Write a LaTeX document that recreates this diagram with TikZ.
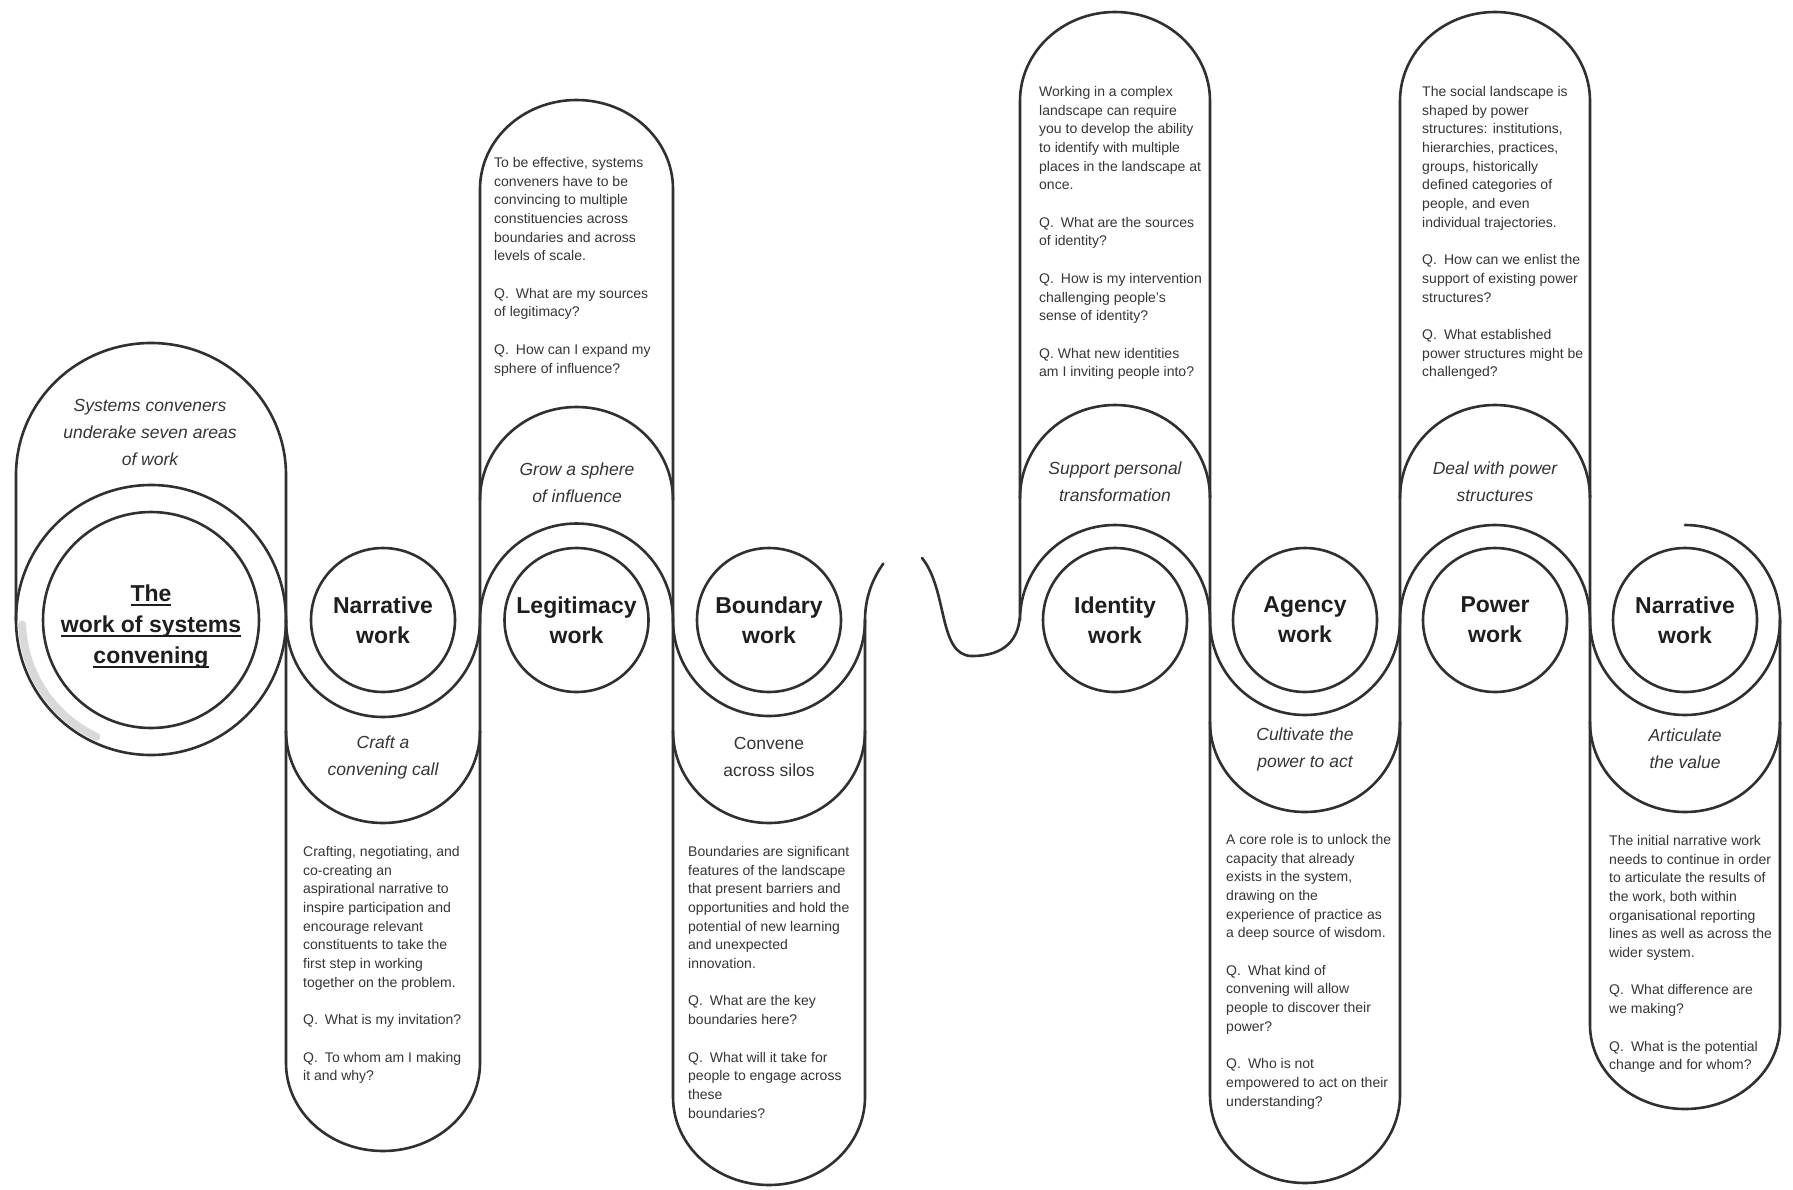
\documentclass[tikz,border=0pt]{standalone}
\usepackage{fontspec}
\setmainfont{Liberation Sans}
\definecolor{ink}{HTML}{303030}
\definecolor{txt}{HTML}{353535}
\definecolor{boldtxt}{HTML}{1E1E1E}
\newcommand\myULine[1]{\setbox0=\hbox{#1}\rlap{\rule[-4pt]{\wd0}{1.8pt}}\box0}
\tikzset{
  ln/.style={draw=ink, line width=2.6pt, line cap=round, line join=round},
  workc/.style={circle, draw=ink, line width=2.6pt, minimum size=144pt, inner sep=0pt,
    align=center, text=boldtxt, font=\fontsize{23}{30}\selectfont\bfseries},
  subt/.style={align=center, text=txt, font=\fontsize{17.5}{27}\selectfont\itshape, inner sep=0pt},
  body/.style={align=left, anchor=north west, text=txt, font=\fontsize{14}{18.7}\selectfont, inner sep=0pt},
}
\begin{document}
\begin{tikzpicture}[x=1pt,y=-1pt]
\useasboundingbox (0,0) rectangle (1793,1189);
\fill[white] (0,0) rectangle (1793,1189);

% ---------- left group: column outlines ----------
\draw[ln] (16,620) -- (16,475) arc[start angle=180, end angle=360, x radius=135, y radius=132]
  -- (286,1063) arc[start angle=180, end angle=0, x radius=97, y radius=88]
  -- (480,189) arc[start angle=180, end angle=360, x radius=96.5, y radius=89]
  -- (673,1097) arc[start angle=180, end angle=0, x radius=96, y radius=88] -- (865,620);
% wave line (left group)
\draw[ln] (286,620) arc(180:0:97) arc(180:360:96.5) arc(180:0:96) arc(180:216:96);

% ---------- right group: column outlines ----------
\draw[ln] (1020,612) -- (1020,101) arc[start angle=180, end angle=360, x radius=95, y radius=89]
  -- (1210,1095) arc[start angle=180, end angle=0, x radius=95, y radius=88]
  -- (1400,101) arc[start angle=180, end angle=360, x radius=95, y radius=89]
  -- (1590,1025) arc[start angle=180, end angle=0, x radius=95, y radius=84] -- (1780,620);
% wave line (right group)
\draw[ln] (922,558) .. controls (948,590) and (938,656) .. (972,656)
  .. controls (1004,656) and (1020,640) .. (1020,612) -- (1020,620)
  arc(180:360:95) arc(180:0:95) arc(180:360:95) arc(180:0:95) arc(0:-90:95);

% ---------- subtitle caps ----------
\draw[ln] (480,500) arc[start angle=180, end angle=360, x radius=96.5, y radius=93];
\draw[ln] (1020,498) arc[start angle=180, end angle=360, x radius=95, y radius=93];
\draw[ln] (1400,498) arc[start angle=180, end angle=360, x radius=95, y radius=93];
\draw[ln] (286,731) arc[start angle=180, end angle=0, x radius=97, y radius=92];
\draw[ln] (673,731) arc[start angle=180, end angle=0, x radius=96, y radius=92];
\draw[ln] (1210,722) arc[start angle=180, end angle=0, x radius=95, y radius=90];
\draw[ln] (1590,722) arc[start angle=180, end angle=0, x radius=95, y radius=90];

% ---------- start element ----------
\draw[gray!30, line width=8pt, line cap=round] (96.5,736.9) arc(115:178:129);
\node[circle, draw=ink, line width=2.6pt, minimum size=270pt, inner sep=0pt] (startouter) at (151,620) {};
\node[circle, draw=ink, line width=2.6pt, minimum size=216pt, inner sep=0pt] (start) at (151,620) {};
\node[align=center, text=boldtxt, font=\fontsize{23}{31}\selectfont\bfseries, inner sep=0pt] (starttxt) at (151,627)
  {\myULine{The}\\\myULine{work of systems}\\\myULine{convening}};
\node[subt] (startsub) at (150,432) {Systems conveners\\underake seven areas\\of work};

% ---------- work circles ----------
\node[workc] (n1) at (383,620) {Narrative\\work};
\node[workc] (leg) at (576.5,620) {Legitimacy\\work};
\node[workc] (bnd) at (769,620) {Boundary\\work};
\node[workc] (idn) at (1115,620) {Identity\\work};
\node[workc] (agn) at (1305,620) {Agency\\work};
\node[workc] (pow) at (1495,620) {Power\\work};
\node[workc] (n2) at (1685,620) {Narrative\\work};

% ---------- subtitles ----------
\node[subt] (legsub) at (577,483) {Grow a sphere\\of influence};
\node[subt] (idnsub) at (1115,482) {Support personal\\transformation};
\node[subt] (powsub) at (1495,482) {Deal with power\\structures};
\node[subt] (n1sub) at (383,757) {Craft a\\convening call};
\node[subt, font=\fontsize{17.5}{27}\selectfont] (bndsub) at (769,757) {Convene\\across silos};
\node[subt] (agnsub) at (1305,749) {Cultivate the\\power to act};
\node[subt] (n2sub) at (1685,749) {Articulate\\the value};

% ---------- body texts ----------
\node[body] (legtxt) at (494,157) {To be effective, systems\\conveners have to be\\convincing to multiple\\constituencies across\\boundaries and across\\levels of scale.\\[18.7pt]Q.\enspace What are my sources\\of legitimacy?\\[18.7pt]Q.\enspace How can I expand my\\sphere of influence?};

\node[body] (n1txt) at (303,846) {Crafting, negotiating, and\\co-creating an\\aspirational narrative to\\inspire participation and\\encourage relevant\\constituents to take the\\first step in working\\together on the problem.\\[18.7pt]Q.\enspace What is my invitation?\\[18.7pt]Q.\enspace To whom am I making\\it and why?};

\node[body] (bndtxt) at (688,846) {Boundaries are significant\\features of the landscape\\that present barriers and\\opportunities and hold the\\potential of new learning\\and unexpected\\innovation.\\[18.7pt]Q.\enspace What are the key\\boundaries here?\\[18.7pt]Q.\enspace What will it take for\\people to engage across\\these\\boundaries?};

\node[body] (idntxt) at (1039,86) {Working in a complex\\landscape can require\\you to develop the ability\\to identify with multiple\\places in the landscape at\\once.\\[18.7pt]Q.\enspace What are the sources\\of identity?\\[18.7pt]Q.\enspace How is my intervention\\challenging people's\\sense of identity?\\[18.7pt]Q. What new identities\\am I inviting people into?};

\node[body] (powtxt) at (1422,86) {The social landscape is\\shaped by power\\structures: institutions,\\hierarchies, practices,\\groups, historically\\defined categories of\\people, and even\\individual trajectories.\\[18.7pt]Q.\enspace How can we enlist the\\support of existing power\\structures?\\[18.7pt]Q.\enspace What established\\power structures might be\\challenged?};

\node[body] (agntxt) at (1226,834) {A core role is to unlock the\\capacity that already\\exists in the system,\\drawing on the\\experience of practice as\\a deep source of wisdom.\\[18.7pt]Q.\enspace What kind of\\convening will allow\\people to discover their\\power?\\[18.7pt]Q.\enspace Who is not\\empowered to act on their\\understanding?};

\node[body] (n2txt) at (1609,835) {The initial narrative work\\needs to continue in order\\to articulate the results of\\the work, both within\\organisational reporting\\lines as well as across the\\wider system.\\[18.7pt]Q.\enspace What difference are\\we making?\\[18.7pt]Q.\enspace What is the potential\\change and for whom?};
\end{tikzpicture}
\end{document}
